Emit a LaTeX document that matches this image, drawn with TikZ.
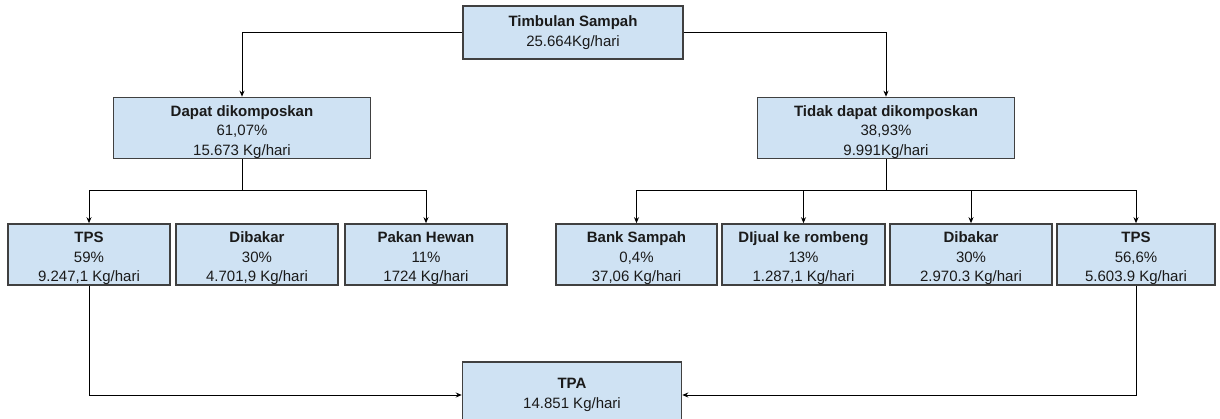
\documentclass[tikz,border=0pt]{standalone}
\usepackage{fontspec}
\setmainfont{Liberation Sans}
\usetikzlibrary{arrows.meta}
\definecolor{boxfill}{HTML}{CFE2F3}
\definecolor{boxline}{HTML}{404040}
\definecolor{txt}{HTML}{1A1A1A}
\newcommand{\tstrut}{\rule{0pt}{19pt}}
\tikzset{
  box/.style={draw=boxline, fill=boxfill, line width=1.5pt, align=center, inner sep=0pt,
    text=txt, font=\fontsize{15}{19.5}\selectfont},
  conn/.style={draw=black, line width=1pt, -{Stealth[length=6pt,width=5pt]}},
  plain/.style={draw=black, line width=1pt}
}
\begin{document}
\begin{tikzpicture}[x=1pt,y=-1pt]
\useasboundingbox (0,0) rectangle (1220,418);
\fill[white] (0,0) rectangle (1220,418);
\clip (0,0) rectangle (1220,418);
% top
\node[box, minimum width=220pt, minimum height=53pt] (top) at (573,32.5) {\textbf{Timbulan Sampah}\\25.664Kg/hari};
% second level
\node[box, minimum width=257pt, minimum height=60pt] (dapat) at (242,128) {\tstrut\textbf{Dapat dikomposkan}\\61,07\%\\15.673 Kg/hari};
\node[box, minimum width=257pt, minimum height=60pt] (tidak) at (886,128) {\tstrut\textbf{Tidak dapat dikomposkan}\\38,93\%\\9.991Kg/hari};
% third level left
\node[box, minimum width=162pt, minimum height=61pt] (tpsL) at (89,254.5) {\tstrut\textbf{TPS}\\59\%\\9.247,1 Kg/hari};
\node[box, minimum width=162pt, minimum height=61pt] (dibakarL) at (257,254.5) {\tstrut\textbf{Dibakar}\\30\%\\4.701,9 Kg/hari};
\node[box, minimum width=162pt, minimum height=61pt] (pakan) at (426,254.5) {\tstrut\textbf{Pakan Hewan}\\11\%\\1724 Kg/hari};
% third level right
\node[box, minimum width=161pt, minimum height=61pt] (bank) at (636.5,254.5) {\tstrut\textbf{Bank Sampah}\\0,4\%\\37,06 Kg/hari};
\node[box, minimum width=163pt, minimum height=61pt] (dijual) at (803.5,254.5) {\tstrut\textbf{DIjual ke rombeng}\\13\%\\1.287,1 Kg/hari};
\node[box, minimum width=162pt, minimum height=61pt] (dibakarR) at (971,254.5) {\tstrut\textbf{Dibakar}\\30\%\\2.970.3 Kg/hari};
\node[box, minimum width=158pt, minimum height=61pt] (tpsR) at (1136,254.5) {\tstrut\textbf{TPS}\\56,6\%\\5.603.9 Kg/hari};
% bottom
\node[box, minimum width=219pt, minimum height=66pt] (tpa) at (572,395) {\textbf{TPA}\\14.851 Kg/hari};
% connectors
\draw[conn] (top.west) -| (dapat.north);
\draw[conn] (top.east) -| (tidak.north);
\coordinate (jl) at (242,190);
\coordinate (jr) at (886,190);
\draw[plain] (dapat.south) -- (jl);
\draw[conn] (jl) -| (tpsL.north);
\draw[conn] (jl) -| (pakan.north);
\draw[plain] (tidak.south) -- (jr);
\draw[conn] (jr) -| (bank.north);
\draw[conn] (jr) -| (dijual.north);
\draw[conn] (jr) -| (dibakarR.north);
\draw[conn] (jr) -| (tpsR.north);
\draw[conn] (tpsL.south) |- (tpa.west);
\draw[conn] (tpsR.south) |- (tpa.east);
\end{tikzpicture}
\end{document}
